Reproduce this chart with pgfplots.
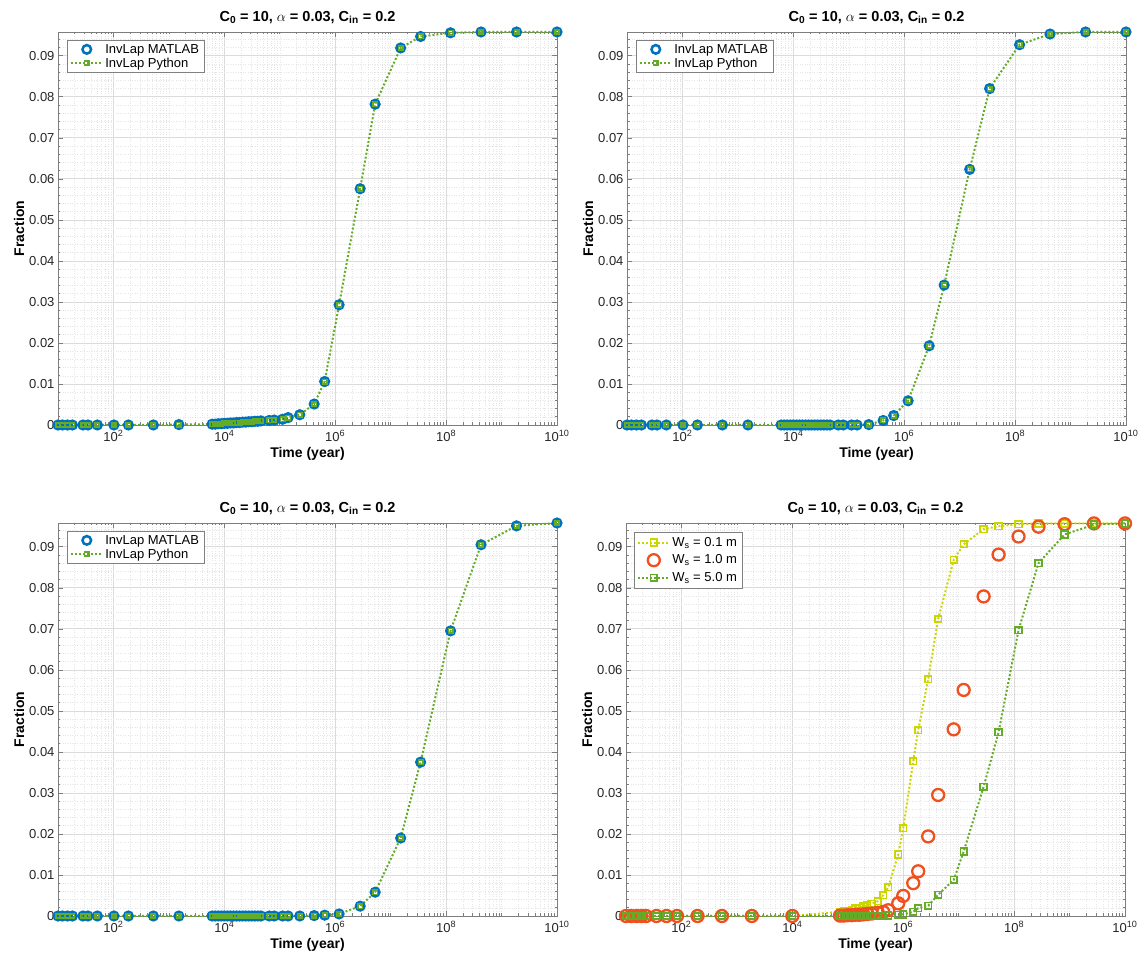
\documentclass[border=0pt]{standalone}
\usepackage{fontspec}
\setmainfont{Liberation Sans}
\usepackage{pgfplots}
\usepackage{pgfplotstable}
\pgfplotsset{compat=1.18}

\definecolor{mblue}{RGB}{0,114,189}
\definecolor{mgreen}{RGB}{100,172,40}
\definecolor{myellow}{RGB}{203,213,0}
\definecolor{mred}{RGB}{240,80,30}
\definecolor{framegray}{RGB}{125,125,125}

\pgfplotstableread{
t a b c
10 0 0 0
12 0 0 0
14.8 0 0 0
18.2 0 0 0
28.2 0 0 0
34.7 0 0 0
51.3 0 0 0
102 0 0 0
186 0 0 0
525 0 0 0
1514 0.0001 0 0
6026 0.0002 0 0
6839 0.0002 0 0
7762 0.0003 0 0
8810 0.0003 0 0
10000 0.0004 0 0
11350 0.0004 0 0
12880 0.0005 0 0
14620 0.0005 0 0
16600 0.0006 0 0
18840 0.0006 0 0
21380 0.0007 0 0
24270 0.0007 0 0
27540 0.0008 0 0
31260 0.0008 0 0
35480 0.0009 0 0
40270 0.0009 0 0
45710 0.0010 0 0
64570 0.0011 0 0
79430 0.0012 0 0
112200 0.0014 0 0
141300 0.0018 0 0
229100 0.0025 0.0001 0
416900 0.0051 0.0011 0.0001
645700 0.0106 0.0023 0.0002
1175000 0.0293 0.0059 0.0005
2818000 0.0576 0.0193 0.0024
5248000 0.0782 0.0341 0.0058
15140000 0.0919 0.0623 0.0190
34670000 0.0947 0.0820 0.0375
120200000 0.0956 0.0927 0.0695
426600000 0.0958 0.0953 0.0905
1862000000 0.0958 0.0958 0.0951
10000000000 0.0958 0.0958 0.0958
}\tabA

\pgfplotstableread{
t y r g
10 0 0 0
12.3 0 0 0
15.5 0 0 0
19 0 0 0
23 0 0 0
35.5 0 0 0
53.7 0 0 0
83.2 0 0 0
195 0 0 0
537 0 0 0
1862 0 0 0
10000 0 0 0
72440 0.0010 0.0001 0
85110 0.0011 0.0001 0
100000 0.0013 0.0002 0
117500 0.0015 0.0002 0
138000 0.0018 0.0003 0
162200 0.0020 0.0003 0
190500 0.0023 0.0004 0
223900 0.0026 0.0005 0
269200 0.0030 0.0006 0
346700 0.0036 0.0008 0
436500 0.0051 0.0010 0
537000 0.0070 0.0014 0.0001
812800 0.0150 0.0031 0.0003
1000000 0.0214 0.0049 0.0004
1514000 0.0377 0.0080 0.0010
1862000 0.0453 0.0109 0.0019
2818000 0.0577 0.0194 0.0025
4266000 0.0724 0.0295 0.0052
8128000 0.0868 0.0455 0.0088
12300000 0.0906 0.0551 0.0157
28180000 0.0943 0.0779 0.0315
52480000 0.0950 0.0881 0.0448
120200000 0.0955 0.0925 0.0697
275400000 0.0957 0.0949 0.0860
812800000 0.0957 0.0955 0.0930
2754000000 0.0957 0.0957 0.0954
10000000000 0.0957 0.0957 0.0957
}\tabB

\pgfplotsset{
 mypanel/.style={
  scale only axis, width=499pt, height=393pt,
  xmin=10, xmax=1e10, ymin=0, ymax=0.0958,
  clip=false, scaled y ticks=false,
  xtick={1e2,1e4,1e6,1e8,1e10},
  xticklabels={10\textsuperscript{2},10\textsuperscript{4},10\textsuperscript{6},10\textsuperscript{8},10\textsuperscript{10}},
  minor xtick={20,30,40,50,60,70,80,90,200,300,400,500,600,700,800,900,1000,2000,3000,4000,5000,6000,7000,8000,9000,2e4,3e4,4e4,5e4,6e4,7e4,8e4,9e4,1e5,2e5,3e5,4e5,5e5,6e5,7e5,8e5,9e5,2e6,3e6,4e6,5e6,6e6,7e6,8e6,9e6,1e7,2e7,3e7,4e7,5e7,6e7,7e7,8e7,9e7,2e8,3e8,4e8,5e8,6e8,7e8,8e8,9e8,1e9,2e9,3e9,4e9,5e9,6e9,7e9,8e9,9e9},
  ytick={0,0.01,0.02,0.03,0.04,0.05,0.06,0.07,0.08,0.09},
  yticklabels={0,0.01,0.02,0.03,0.04,0.05,0.06,0.07,0.08,0.09},
  minor ytick={0.002,0.004,0.006,0.008,0.012,0.014,0.016,0.018,0.022,0.024,0.026,0.028,0.032,0.034,0.036,0.038,0.042,0.044,0.046,0.048,0.052,0.054,0.056,0.058,0.062,0.064,0.066,0.068,0.072,0.074,0.076,0.078,0.082,0.084,0.086,0.088,0.092,0.094},
  grid=both,
  major grid style={draw=black!14, line width=0.7pt},
  minor grid style={draw=black!10, dotted, line width=0.5pt},
  axis line style={draw=framegray, line width=0.8pt},
  tick style={draw=framegray, line width=0.6pt},
  tick align=inside,
  major tick length=5pt, minor tick length=2.5pt,
  ticklabel style={font=\fontsize{13}{15}\selectfont, text=black!85},
  xticklabel style={yshift=-2pt},
  title style={font=\bfseries\fontsize{14.5}{16}\selectfont, yshift=-1pt},
  title={C\textsubscript{0} = 10, $\alpha$ = 0.03, C\textsubscript{in} = 0.2},
  xlabel={Time (year)}, ylabel={Fraction},
  label style={font=\bfseries\fontsize{14}{16}\selectfont},
  ylabel style={yshift=-2pt},
  xlabel style={yshift=1pt},
  legend style={at={(0.018,0.98)}, anchor=north west, draw=black!50, line width=0.6pt,
    font=\fontsize{13}{15}\selectfont, inner xsep=3pt, inner ysep=2pt, row sep=-1pt, cells={anchor=west}},
  legend cell align=left,
  legend image code/.code={\draw[mark repeat=2,mark phase=2,##1] plot coordinates {(0pt,0pt)(15.5pt,0pt)(31pt,0pt)};},
 },
 matl/.style={only marks, mark=o, draw=mblue, mark size=4.3pt, line width=2.5pt},
 pyth/.style={mgreen, dotted, line width=2pt, mark=square, mark size=2.2pt, mark options={solid, line width=1.6pt}},
}

\begin{document}
\begin{tikzpicture}
\useasboundingbox (0,0) rectangle (1147pt,965pt);

\begin{semilogxaxis}[mypanel, at={(58pt,540pt)}, anchor=south west]
\addplot[matl] table[x=t,y=a]{\tabA};
\addplot[pyth] table[x=t,y=a]{\tabA};
\legend{InvLap MATLAB, InvLap Python}
\end{semilogxaxis}

\begin{semilogxaxis}[mypanel, at={(627pt,540pt)}, anchor=south west]
\addplot[matl] table[x=t,y=b]{\tabA};
\addplot[pyth] table[x=t,y=b]{\tabA};
\legend{InvLap MATLAB, InvLap Python}
\end{semilogxaxis}

\begin{semilogxaxis}[mypanel, at={(58pt,49pt)}, anchor=south west]
\addplot[matl] table[x=t,y=c]{\tabA};
\addplot[pyth] table[x=t,y=c]{\tabA};
\legend{InvLap MATLAB, InvLap Python}
\end{semilogxaxis}

\begin{semilogxaxis}[mypanel, at={(626pt,49pt)}, anchor=south west,
  legend style={at={(0.016,0.977)}, row sep=3pt, inner ysep=3pt}]
\addplot[myellow, dotted, line width=2pt, mark=square, mark size=3.3pt, mark options={solid, line width=1.7pt}] table[x=t,y=y]{\tabB};
\addplot[only marks, mark=o, draw=mred, mark size=6pt, line width=2.3pt] table[x=t,y=r]{\tabB};
\addplot[mgreen, dotted, line width=2pt, mark=square, mark size=3.3pt, mark options={solid, line width=1.7pt}] table[x=t,y=g]{\tabB};
\legend{W\textsubscript{s} = 0.1 m, W\textsubscript{s} = 1.0 m, W\textsubscript{s} = 5.0 m}
\end{semilogxaxis}
\end{tikzpicture}
\end{document}
